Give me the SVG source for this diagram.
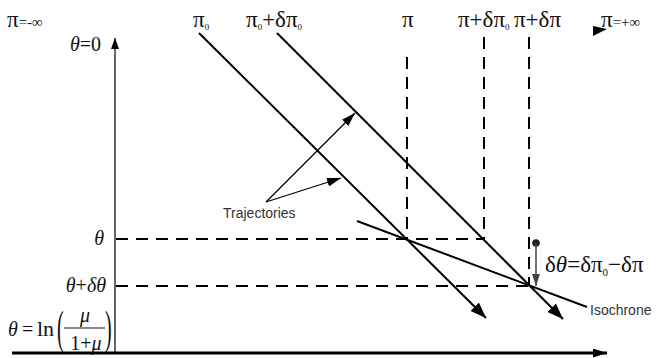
<svg xmlns="http://www.w3.org/2000/svg" width="656" height="358" viewBox="0 0 656 358">
<defs>
<style>
.serif{font-family:"Liberation Serif","Times New Roman",serif;fill:#111}
.pi{font-family:"Liberation Serif","Times New Roman",serif;fill:#111;font-size:23px}
.it{font-style:italic}
.sans{font-family:"Liberation Sans",Arial,sans-serif;fill:#333;font-size:14px}
.traj{stroke:#000;stroke-width:2;fill:none}
.dash{stroke:#000;stroke-width:2;stroke-dasharray:12 8;fill:none}
.thin{stroke:#000;stroke-width:1.2;fill:none}
</style>
<marker id="big" viewBox="0 0 16 12" refX="16" refY="6" markerWidth="16" markerHeight="12" markerUnits="userSpaceOnUse" orient="auto"><path d="M0,0 L16,6 L0,12 Z" fill="#000"/></marker>
<marker id="xax" viewBox="0 0 14 9" refX="14" refY="4.5" markerWidth="14" markerHeight="9" markerUnits="userSpaceOnUse" orient="auto"><path d="M0,0 L14,4.5 L0,9 Z" fill="#000"/></marker>
<marker id="yax" viewBox="0 0 11 8" refX="11" refY="4" markerWidth="11" markerHeight="8" markerUnits="userSpaceOnUse" orient="auto"><path d="M0,0 L11,4 L0,8 Z" fill="#000"/></marker>
<marker id="small" viewBox="0 0 14 9" refX="14" refY="4.5" markerWidth="14" markerHeight="9" markerUnits="userSpaceOnUse" orient="auto"><path d="M0,0 L14,4.5 L0,9 Z" fill="#000"/></marker>
<marker id="gray" viewBox="0 0 12 8" refX="12" refY="4" markerWidth="12" markerHeight="8" markerUnits="userSpaceOnUse" orient="auto"><path d="M0,0 L12,4 L0,8 Z" fill="#444"/></marker>
</defs>

<g id="axes">
<line x1="115" y1="353" x2="115" y2="38" stroke="#333" stroke-width="1.5" marker-end="url(#yax)"/>
<line x1="12" y1="353" x2="607" y2="353" stroke="#000" stroke-width="3" marker-end="url(#xax)"/>
</g>

<g id="connectors">
<line class="traj" x1="199" y1="33" x2="486" y2="318" marker-end="url(#big)"/>
<line class="traj" x1="277" y1="33" x2="563" y2="319" marker-end="url(#big)"/>
<line class="traj" x1="357" y1="221" x2="587" y2="307"/>
<line class="dash" x1="407" y1="57" x2="407" y2="239"/>
<line class="dash" x1="484" y1="37" x2="484" y2="239"/>
<line class="dash" x1="529" y1="37" x2="529" y2="286"/>
<line class="dash" x1="116" y1="239" x2="484" y2="239"/>
<line class="dash" x1="116" y1="286" x2="529" y2="286"/>
<line class="thin" x1="266" y1="202" x2="355" y2="113" marker-end="url(#small)"/>
<line class="thin" x1="266" y1="202" x2="341" y2="178" marker-end="url(#small)"/>
<circle cx="536" cy="243" r="3.8" fill="#222"/>
<line x1="536" y1="243" x2="536" y2="286" stroke="#444" stroke-width="1.5" marker-end="url(#gray)"/>
<path d="M593,26 L607,29 L593,36 Z" fill="#000"/>
</g>

<g id="top-labels">
<text class="pi" x="7" y="27">π<tspan font-size="15">=-∞</tspan></text>
<text class="serif it" x="70" y="51" font-size="20">θ<tspan font-style="normal">=0</tspan></text>
<text class="pi" x="193" y="27">π<tspan font-size="9" dy="3">0</tspan></text>
<text class="pi" x="246" y="27">π<tspan font-size="9" dy="3">0</tspan><tspan dy="-3">+δπ</tspan><tspan font-size="9" dy="3">0</tspan></text>
<text class="pi" x="402" y="27">π</text>
<text class="pi" x="458" y="27">π+δπ<tspan font-size="9" dy="3">0</tspan></text>
<text class="pi" x="514" y="27">π+δπ</text>
<text class="pi" x="601" y="27">π<tspan font-size="15">=+∞</tspan></text>
</g>

<g id="left-labels">
<text class="serif it" x="104" y="245" font-size="20" text-anchor="end">θ</text>
<text class="serif it" x="106" y="292" font-size="20" text-anchor="end">θ<tspan font-style="normal">+</tspan>δθ</text>
<text class="serif it" x="8" y="336" font-size="20">θ</text>
<text class="serif" x="22" y="336" font-size="20">=</text>
<text class="serif" x="37" y="336" font-size="22">ln</text>
<text class="serif" x="57" y="343" font-size="20" transform="translate(57,343) scale(1,2.3) translate(-57,-343)">(</text>
<text class="serif it" x="85" y="322" font-size="20" text-anchor="middle">μ</text>
<line x1="64" y1="328" x2="105" y2="328" stroke="#111" stroke-width="1.2"/>
<text class="serif" x="86" y="350" font-size="20" text-anchor="middle">1+<tspan font-style="italic">μ</tspan></text>
<text class="serif" x="105" y="343" font-size="20" transform="translate(105,343) scale(1,2.3) translate(-105,-343)">)</text>
</g>

<g id="right-labels">
<text class="serif" x="545" y="272" font-size="23" fill="#333">δ<tspan font-style="italic">θ</tspan>=δπ<tspan font-size="11" dy="4">0</tspan><tspan dy="-4">−δπ</tspan></text>
<text class="sans" x="590" y="315">Isochrone</text>
<text class="sans" x="223" y="218">Trajectories</text>
</g>
</svg>
